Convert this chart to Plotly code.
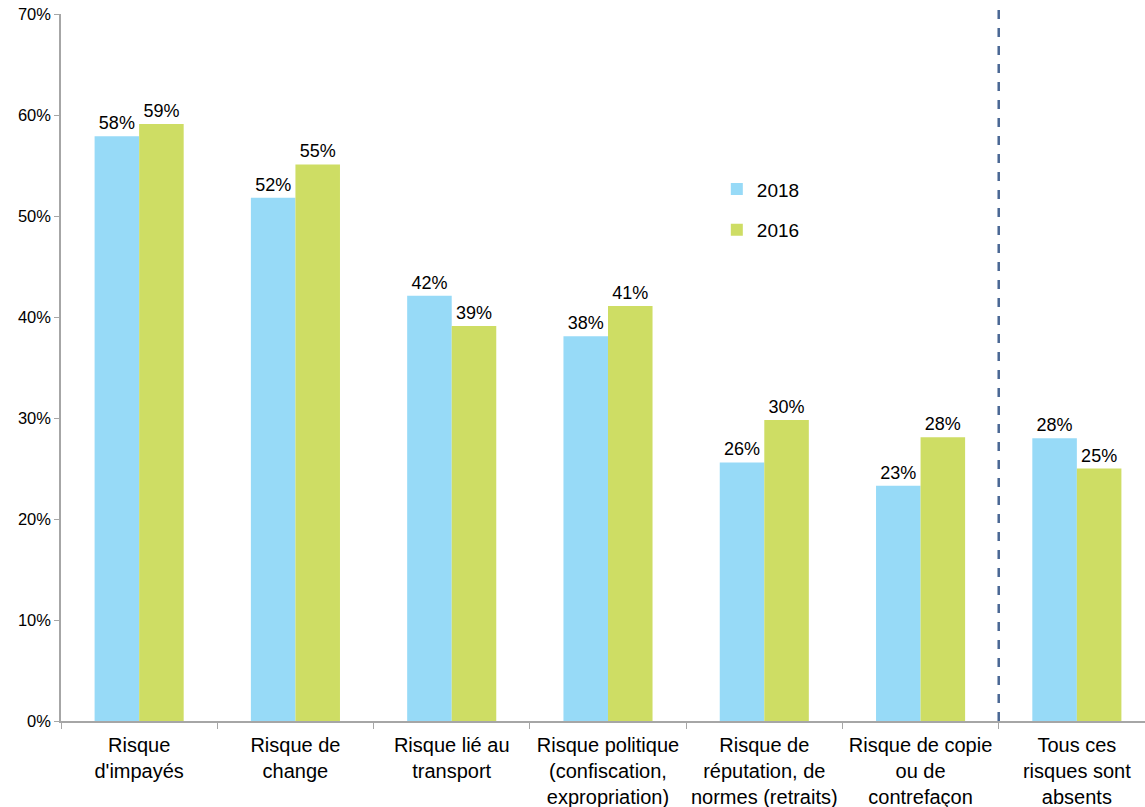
import plotly.graph_objects as go

categories = [
    "Risque<br>d'impayés",
    "Risque de<br>change",
    "Risque lié au<br>transport",
    "Risque politique<br>(confiscation,<br>expropriation)",
    "Risque de<br>réputation, de<br>normes (retraits)",
    "Risque de copie<br>ou de<br>contrefaçon",
    "Tous ces<br>risques sont<br>absents",
]
values_2018 = [57.9, 51.8, 42.1, 38.1, 25.6, 23.3, 28.0]
values_2016 = [59.1, 55.1, 39.1, 41.1, 29.8, 28.1, 25.0]
y_ticks = [0, 10, 20, 30, 40, 50, 60, 70]
y_tick_labels = [f"{v}%" for v in y_ticks]

FONT = "Liberation Sans, Arial, sans-serif"

fig = go.Figure()
fig.add_trace(go.Bar(
    name="2018", x=categories, y=values_2018,
    marker=dict(color="#97DAF7", line=dict(width=0)),
    text=[f"{round(v)}%" for v in values_2018], textposition="outside",
    textfont=dict(size=18, color="#000000", family=FONT),
    cliponaxis=False, legendgroup="a",
))
fig.add_trace(go.Bar(
    name="2016", x=categories, y=values_2016,
    marker=dict(color="#CEDD64", line=dict(width=0)),
    text=[f"{round(v)}%" for v in values_2016], textposition="outside",
    textfont=dict(size=18, color="#000000", family=FONT),
    cliponaxis=False, legendgroup="b",
))

fig.add_shape(type="line", xref="x", yref="paper", x0=5.5, x1=5.5, y0=0, y1=1.011,
              line=dict(color="#4A6794", width=2.5, dash="dash"))

fig.update_layout(
    width=1145, height=807,
    margin=dict(l=61, r=0, t=14, b=86),
    paper_bgcolor="white", plot_bgcolor="white",
    barmode="group", bargap=0.43, bargroupgap=0,
    font=dict(family=FONT, size=19, color="#000000"),
    showlegend=True,
    legend=dict(x=0.605, y=0.779, xanchor="left", yanchor="top",
                font=dict(size=19, family=FONT), tracegroupgap=13,
                bgcolor="rgba(0,0,0,0)", itemwidth=30),
    uniformtext=dict(mode=False),
)
fig.update_xaxes(
    type="category", range=[-0.5, 6.436], automargin=False,
    showline=True, linecolor="#A6A6A6", linewidth=1.5,
    ticks="outside", tickson="boundaries", ticklen=6, tickcolor="#A6A6A6",
    tickfont=dict(size=20, family=FONT, color="#000000"),
    ticklabelstandoff=5,
    showgrid=False, zeroline=False,
)
fig.update_yaxes(
    range=[0, 70], tickvals=y_ticks, ticktext=y_tick_labels, automargin=False,
    showline=True, linecolor="#A6A6A6", linewidth=1.5,
    ticks="outside", ticklen=5, tickcolor="#A6A6A6",
    tickfont=dict(size=16.5, family=FONT, color="#000000"),
    showgrid=False, zeroline=False,
)

fig.write_html(
    "out.html",
    config={"displayModeBar": False},
    post_script="document.body.style.margin='0';document.body.style.overflow='hidden';",
)
